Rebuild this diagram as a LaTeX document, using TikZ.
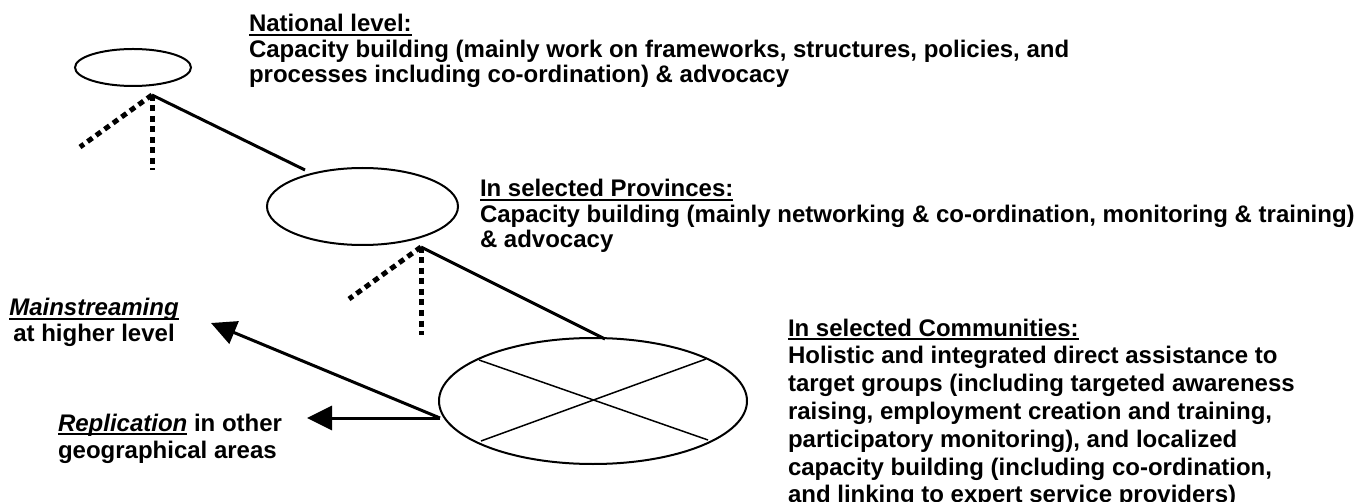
\documentclass[tikz,border=0pt]{standalone}
\usepackage{fontspec}
\setmainfont{Liberation Sans}
\usetikzlibrary{shapes.geometric,arrows.meta,calc}

% word underline at a fixed depth below the baseline
\newcommand\ulword[1]{\sbox0{#1}\rlap{\rule[-4pt]{\wd0}{1.8pt}}\usebox0}
% stack of lines whose baseline is that of the first line
\newcommand\stacklines[2]{\vtop{\baselineskip=#1\lineskiplimit=-100pt #2}}

\begin{document}
\begin{tikzpicture}[x=1pt,y=-1pt,
  every node/.style={inner sep=0pt, outer sep=0pt},
  txt/.style={anchor=base west, font=\fontsize{24}{27}\selectfont\bfseries},
  oval/.style={draw, ellipse, line width=2pt, inner sep=0pt},
  link/.style={line width=3pt},
  branch/.style={line width=5pt, dash pattern=on 6pt off 4.5pt},
  cross/.style={line width=1.5pt},
  push/.style={line width=3pt, -{Triangle[length=25pt,width=24pt]}}]

\fill[white] (0,0) rectangle (1372,502);
\useasboundingbox (0,0) rectangle (1372,502);

% the three levels
\node[oval, minimum width=116pt, minimum height=37pt] (nat) at (133,67.5) {};
\node[oval, minimum width=191pt, minimum height=77pt] (prov) at (362.5,206.5) {};
\node[oval, minimum width=308pt, minimum height=126pt] (comm) at (593,401) {};

% cross inside the community level
\draw[cross] ($(comm.center)+(-114,-41)$) -- ($(comm.center)+(115,39)$);
\draw[cross] ($(comm.center)+(-112,40)$) -- ($(comm.center)+(113,-42)$);

% junctions below the upper levels
\coordinate (j1) at (152,95);
\coordinate (j1s) at (305,170);
\coordinate (j1d) at (152,170);
\coordinate (j1w) at (80,147);
\coordinate (j2) at (421,247);
\coordinate (j2s) at (605,339);
\coordinate (j2d) at (421,335);
\coordinate (j2w) at (349,299);

\draw[link] (j1) -- (j1s);
\draw[branch] (j1) -- (j1d);
\draw[branch] (j1) -- (j1w);
\draw[link] (j2) -- (j2s);
\draw[branch] (j2) -- (j2d);
\draw[branch] (j2) -- (j2w);

% outward arrows
\coordinate (src) at (440,418);
\coordinate (mtip) at (211,323);
\coordinate (rtip) at (307,418);
\draw[push] (src) -- (mtip);
\draw[push] (src) -- (rtip);

% texts
\node[txt] (nattxt) at (249,32) {\stacklines{25.5pt}{%
  \hbox{\ulword{National level:}}
  \hbox{Capacity building (mainly work on frameworks, structures, policies, and}
  \hbox{processes including co-ordination) \& advocacy}}};

\node[txt] (provtxt) at (480,197) {\stacklines{25.5pt}{%
  \hbox{\ulword{In selected Provinces:}}
  \hbox{Capacity building (mainly networking \& co-ordination, monitoring \& training)}
  \hbox{\& advocacy}}};

\node[txt] (commtxt) at (788,336) {\stacklines{27.8pt}{%
  \hbox{\ulword{In selected Communities:}}
  \hbox{Holistic and integrated direct assistance to}
  \hbox{target groups (including targeted awareness}
  \hbox{raising, employment creation and training,}
  \hbox{participatory monitoring), and localized}
  \hbox{capacity building (including co-ordination,}
  \hbox{and linking to expert service providers)}}};

\node[txt] (maintxt) at (9,316) {\stacklines{26pt}{%
  \hbox to 170pt{\hss\ulword{\itshape Mainstreaming}\hss}
  \hbox to 170pt{\hss at higher level\hss}}};

\node[txt] (reptxt) at (58,431) {\stacklines{27pt}{%
  \hbox{\ulword{\itshape Replication} in other}
  \hbox{geographical areas}}};

\end{tikzpicture}
\end{document}
